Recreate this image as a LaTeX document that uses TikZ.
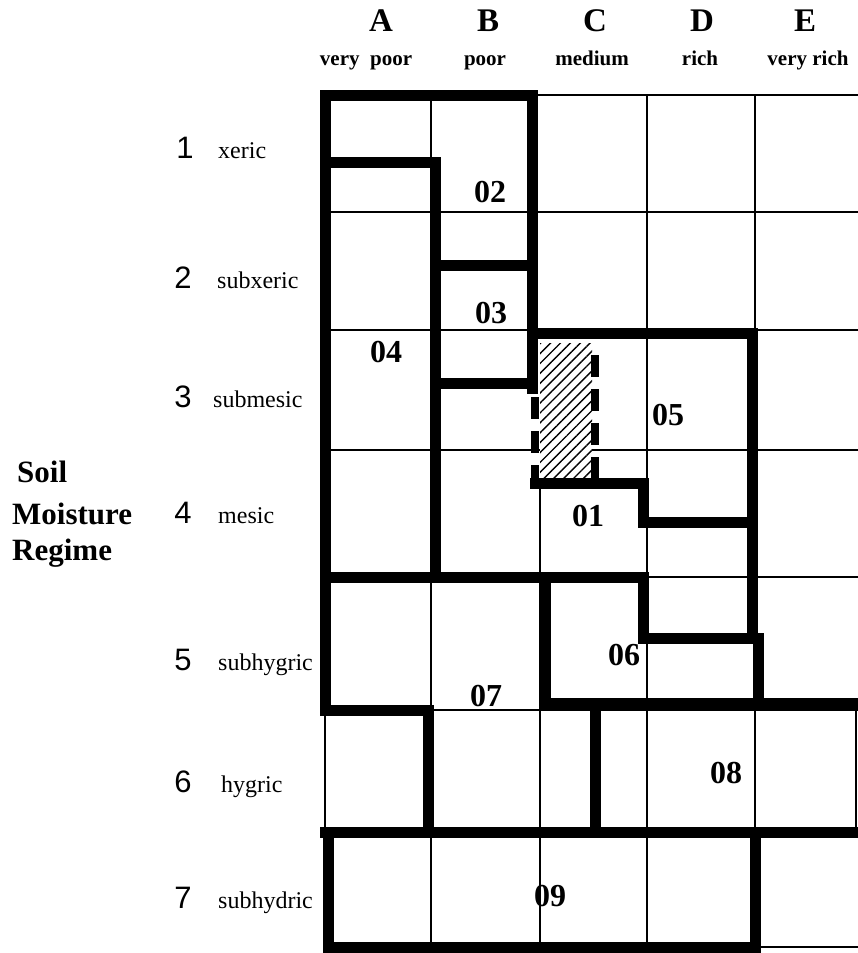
\documentclass[tikz,border=0pt]{standalone}
\usepackage{fontspec}
\setmainfont{Liberation Serif}
\newfontfamily\sansf{Liberation Sans}
\usetikzlibrary{patterns.meta}
\begin{document}
\begin{tikzpicture}[x=1pt,y=-1pt,
  thin/.style={line width=1.8pt},
  thick/.style={line width=11pt,line join=miter,line cap=rect},
  dashb/.style={line width=8pt,dash pattern=on 22pt off 12pt},
  hdr/.style={font=\bfseries\fontsize{33}{33}\selectfont,inner sep=0pt,anchor=base},
  subh/.style={font=\bfseries\fontsize{21}{21}\selectfont,inner sep=0pt,anchor=base},
  rnum/.style={font=\sansf\fontsize{31}{31}\selectfont,inner sep=0pt,anchor=base},
  rname/.style={font=\fontsize{24}{24}\selectfont,inner sep=0pt,anchor=base west},
  reg/.style={font=\bfseries\fontsize{32}{32}\selectfont,inner sep=0pt,anchor=base},
  side/.style={font=\bfseries\fontsize{31}{31}\selectfont,inner sep=0pt,anchor=base west}]
\useasboundingbox (0,0) rectangle (858,953);
% thin grid
\draw[thin] (431,95)--(431,947);
\draw[thin] (540,483)--(540,947);
\draw[thin] (647,95)--(647,947);
\draw[thin] (755,95)--(755,947);
\draw[thin] (856,703)--(856,832);
\draw[thin] (325,710)--(325,832);
\draw[thin] (532,95)--(858,95);
\draw[thin] (325,212)--(858,212);
\draw[thin] (325,330)--(858,330);
\draw[thin] (325,450)--(858,450);
\draw[thin] (325,577)--(858,577);
\draw[thin] (325,710)--(858,710);
\draw[thin] (755,947)--(858,947);
% hatched area
\fill[white] (540,343) rectangle (592,478);
\fill[pattern={Lines[angle=45,distance=7pt,line width=1.4pt]}] (540,343) rectangle (592,478);
% thick boundaries
\draw[thick] (325,710)--(325,95)--(532,95)--(532,388);
\draw[thick] (325,162)--(435,162)--(435,577);
\draw[thick] (435,265)--(532,265);
\draw[thick] (435,383)--(532,383);
\draw[thick] (532,333)--(752,333)--(752,638);
\draw[thick] (535,483)--(643,483)--(643,522)--(752,522);
\draw[thick] (643,577)--(643,638)--(758,638)--(758,703);
\draw[thick] (325,577)--(643,577);
\draw[thick] (545,577)--(545,703)--(858,703);
\draw[thick] (325,710)--(428,710)--(428,832);
\draw[thick] (595,703)--(595,832);
\draw[thick] (325,832)--(858,832);
\draw[thick] (755,832)--(755,947)--(328,947)--(328,832);
% dashed sides of hatched area
\draw[dashb] (535,397)--(535,483);
\draw[dashb] (595,355)--(595,483);
% column headers
\node[hdr] (hA) at (381,31) {A};
\node[hdr] (hB) at (488,31) {B};
\node[hdr] (hC) at (595,31) {C};
\node[hdr] (hD) at (702,31) {D};
\node[hdr] (hE) at (805,31) {E};
\node[subh] (sA) at (366,65) {very\ \ poor};
\node[subh] (sB) at (485,65) {poor};
\node[subh] (sC) at (592,65) {medium};
\node[subh] (sD) at (700,65) {rich};
\node[subh] (sE) at (808,65) {very rich};
% row labels
\node[rnum] (n1) at (185,158) {1};
\node[rnum] (n2) at (183,288) {2};
\node[rnum] (n3) at (183,407) {3};
\node[rnum] (n4) at (183,523) {4};
\node[rnum] (n5) at (183,670) {5};
\node[rnum] (n6) at (183,792) {6};
\node[rnum] (n7) at (183,908) {7};
\node[rname] (w1) at (218,158) {xeric};
\node[rname] (w2) at (217,288) {subxeric};
\node[rname] (w3) at (213,407) {submesic};
\node[rname] (w4) at (218,523) {mesic};
\node[rname] (w5) at (218,670) {subhygric};
\node[rname] (w6) at (221,792) {hygric};
\node[rname] (w7) at (218,908) {subhydric};
% side title
\node[side] (t1) at (17,482) {Soil};
\node[side] (t2) at (12,524) {Moisture};
\node[side] (t3) at (12,560) {Regime};
% region labels
\node[reg] (r02) at (490,202) {02};
\node[reg] (r03) at (491,323) {03};
\node[reg] (r04) at (386,362) {04};
\node[reg] (r05) at (668,425) {05};
\node[reg] (r01) at (588,526) {01};
\node[reg] (r06) at (624,665) {06};
\node[reg] (r07) at (486,706) {07};
\node[reg] (r08) at (726,783) {08};
\node[reg] (r09) at (550,906) {09};
\end{tikzpicture}
\end{document}
